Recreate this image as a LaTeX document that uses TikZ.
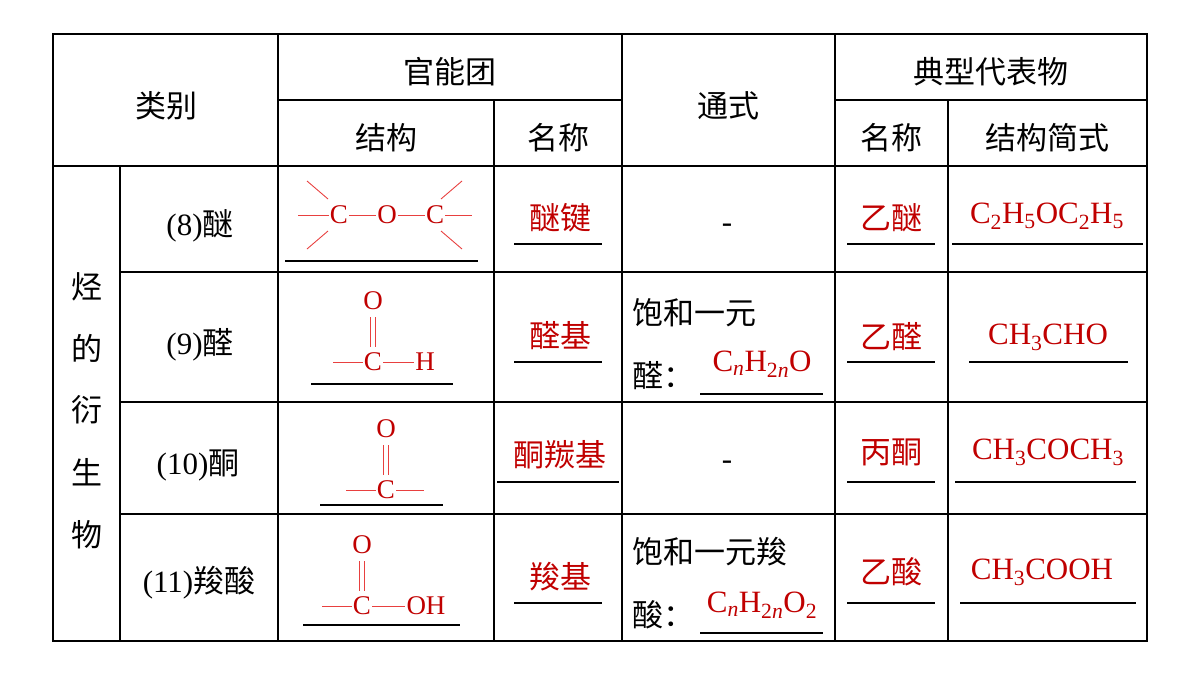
\documentclass[tikz,border=0pt]{standalone}
\usepackage{fontspec}
\setmainfont{Liberation Serif}
\newfontfamily\cjk{Noto Sans CJK SC}
\definecolor{ans}{HTML}{C00000}
\definecolor{bond}{HTML}{E8403F}
\newcommand{\sbs}[1]{\textsubscript{#1}}
\begin{document}
\begin{tikzpicture}[x=1pt,y=-1pt,
  txt/.style={inner sep=0pt,font=\fontsize{31}{34}\selectfont},
  red/.style={txt,text=ans},
  chem/.style={inner sep=1pt,text=ans,font=\fontsize{27}{30}\selectfont},
  grid/.style={line width=1.2pt,black},
  ul/.style={line width=1.1pt,black},
  bd/.style={bond,line width=0.9pt}]
\useasboundingbox (0,0) rectangle (1200,675);
% grid
\draw[grid] (53,34) rectangle (1147,641);
\foreach \x in {278,622,835}{\draw[grid] (\x,34)--(\x,641);}
\foreach \x in {494,948}{\draw[grid] (\x,100)--(\x,641);}
\draw[grid] (120,166)--(120,641);
\draw[grid] (278,100)--(622,100) (835,100)--(1147,100);
\draw[grid] (53,166)--(1147,166);
\foreach \y in {272,402,514}{\draw[grid] (120,\y)--(1147,\y);}
% headers
\node[txt] (h1) at (166,106) {\cjk 类别};
\node[txt] (h2) at (450,72) {\cjk 官能团};
\node[txt] (h3) at (386,138) {\cjk 结构};
\node[txt] (h4) at (558,138) {\cjk 名称};
\node[txt] (h5) at (728,106) {\cjk 通式};
\node[txt] (h6) at (991,72) {\cjk 典型代表物};
\node[txt] (h7) at (891,138) {\cjk 名称};
\node[txt] (h8) at (1047,138) {\cjk 结构简式};
% left column
\foreach \c/\y [count=\i] in {烃/287,的/348,衍/410,生/472,物/535}{\node[txt] (v\i) at (87,\y) {\cjk \c};}
\node[txt] (r1) at (200,226) {(8){\cjk 醚}};
\node[txt] (r2) at (200,345) {(9){\cjk 醛}};
\node[txt] (r3) at (198,465) {(10){\cjk 酮}};
\node[txt] (r4) at (199,583) {(11){\cjk 羧酸}};
% ether structure
\node[chem] (e1) at (339,215) {C};
\node[chem] (e2) at (387,215) {O};
\node[chem] (e3) at (435,215) {C};
\draw[bd] (298,215)--(e1) (e1)--(e2) (e2)--(e3) (e3)--(472,215);
\draw[bd] (307,181)--(328,199) (307,249)--(328,231) (462,181)--(441,199) (462,249)--(441,231);
\draw[ul] (285,261)--(478,261);
% aldehyde
\node[chem] (a1) at (373,301) {O};
\node[chem] (a2) at (373,362) {C};
\node[chem] (a3) at (425,362) {H};
\draw[bd] (370.5,317)--(370.5,347) (375.5,317)--(375.5,347);
\draw[bd] (333,362)--(a2) (a2)--(a3);
\draw[ul] (311,384)--(453,384);
% ketone
\node[chem] (k1) at (386,429) {O};
\node[chem] (k2) at (386,490) {C};
\draw[bd] (383.5,445)--(383.5,475) (388.5,445)--(388.5,475);
\draw[bd] (346,490)--(k2) (k2)--(424,490);
\draw[ul] (320,505)--(443,505);
% acid
\node[chem] (c1) at (362,545) {O};
\node[chem] (c2) at (362,606) {C};
\node[chem] (c3) at (426,606) {OH};
\draw[bd] (359.5,561)--(359.5,591) (364.5,561)--(364.5,591);
\draw[bd] (322,606)--(c2) (c2)--(c3);
\draw[ul] (303,625)--(460,625);
% names
\node[red] (n1) at (560,218) {\cjk 醚键};
\node[red] (n2) at (560,336) {\cjk 醛基};
\node[red] (n3) at (560,455) {\cjk 酮羰基};
\node[red] (n4) at (560,577) {\cjk 羧基};
\draw[ul] (514,244)--(602,244) (514,362)--(602,362) (497,482)--(619,482) (514,603)--(602,603);
% general formula
\node[txt] (g1) at (727,228) {-};
\node[txt] (g3) at (727,465) {-};
\node[txt,anchor=west] (g2a) at (632,313) {\cjk 饱和一元};
\node[txt,anchor=west] (g2b) at (632,376) {\cjk 醛：};
\node[red] (g2c) at (762,364) {C\sbs{\textit{n}}H\sbs{2\textit{n}}O};
\node[txt,anchor=west] (g4a) at (632,552) {\cjk 饱和一元羧};
\node[txt,anchor=west] (g4b) at (632,615) {\cjk 酸：};
\node[red] (g4c) at (762,605) {C\sbs{\textit{n}}H\sbs{2\textit{n}}O\sbs{2}};
\draw[ul] (700,394)--(823,394) (700,633)--(823,633);
% typical
\node[red] (t1) at (891,218) {\cjk 乙醚};
\node[red] (t2) at (891,337) {\cjk 乙醛};
\node[red] (t3) at (891,452) {\cjk 丙酮};
\node[red] (t4) at (891,572) {\cjk 乙酸};
\draw[ul] (847,244)--(935,244) (847,362)--(935,362) (847,482)--(935,482) (847,603)--(935,603);
\node[red] (s1) at (1047,216) {C\sbs{2}H\sbs{5}OC\sbs{2}H\sbs{5}};
\node[red] (s2) at (1048,337) {CH\sbs{3}CHO};
\node[red] (s3) at (1048,452) {CH\sbs{3}COCH\sbs{3}};
\node[red] (s4) at (1042,572) {CH\sbs{3}COOH};
\draw[ul] (952,244)--(1143,244) (969,362)--(1128,362) (955,482)--(1136,482) (960,603)--(1136,603);
\end{tikzpicture}
\end{document}
